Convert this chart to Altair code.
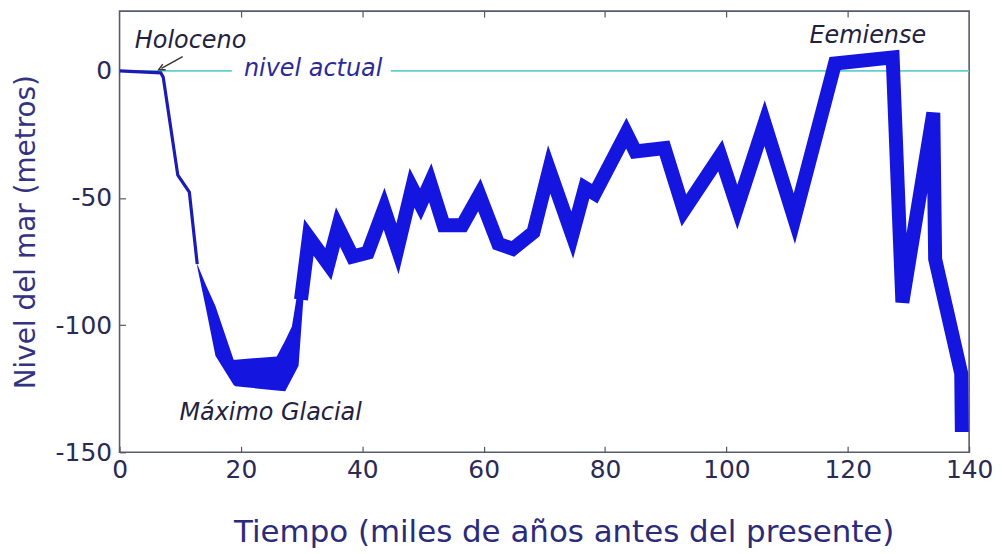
import altair as alt
import pandas as pd

# --- data (miles de años antes del presente, metros) ---
# tramo inicial (trazo fino)
t_ini = [0, 6.8, 7.2, 9.6, 11.5, 12.8]
n_ini = [0, -0.8, -2.5, -41, -47.7, -76]

# banda ancha del Máximo Glacial (borde superior / inferior)
banda_t = [12.8, 14.2, 15.8, 18.8, 19.1, 25.9, 27.3, 28.4, 29.5, 30.8, 31.2]
banda_sup = [-76, -84, -92.5, -113.6, -113.6, -112.3, -106, -100.5, -84.4, -65.3, -62.5]
banda_inf = [-77, -93, -112, -123.5, -124, -125.7, -126, -121, -116, -73, -69]

# tramo principal (trazo grueso)
t_main = [29.9, 31.2, 34.4, 36.0, 38.4, 40.9, 43.6, 45.8, 48.2, 49.6, 51.2, 53.4,
          56.5, 59.3, 62.4, 64.8, 68.2, 70.8, 74.6, 76.7, 78.3, 83.5, 85.0, 89.8,
          93.0, 99.0, 101.8, 106.3, 111.2, 117.9, 127.4, 129.0, 134.1, 134.4,
          138.7, 138.8]
n_main = [-90, -65.5, -76, -61.4, -73, -71.5, -54.2, -70, -46, -52.5, -44, -60.7,
          -60.7, -48.8, -68, -70, -63.5, -38.8, -64.6, -46, -48.3, -24.5, -31.7,
          -30.4, -54.9, -33.3, -53.6, -20.6, -58.1, 2.9, 5.3, -91, -16.5, -74,
          -119, -142]

ref_t = [0, 18.5, 44.7, 140]
ref_nivel = [0, 0, 0, 0]
ref_seg = ["a", "a", "b", "b"]

x_ticks = [0, 20, 40, 60, 80, 100, 120, 140]
y_ticks = [0, -50, -100, -150]

notas = ["Holoceno", "Eemiense", "Máximo Glacial"]
notas_t = [11.7, 123.3, 24.9]
notas_nivel = [11.8, 13.7, -134.4]

actual_texto = ["nivel actual"]
actual_t = [31.9]
actual_nivel = [0.6]

flecha_t = [10.4, 6.9]
flecha_nivel = [5.6, 1.0]

ini_df = pd.DataFrame({"t": t_ini, "nivel": n_ini, "i": list(range(len(t_ini)))})
main_df = pd.DataFrame({"t": t_main, "nivel": n_main, "i": list(range(len(t_main)))})
banda_df = pd.DataFrame({"t": banda_t, "nivel": banda_sup, "inf": banda_inf})
ref_df = pd.DataFrame({"t": ref_t, "nivel": ref_nivel, "seg": ref_seg})
notas_df = pd.DataFrame({"t": notas_t, "nivel": notas_nivel, "txt": notas})
actual_df = pd.DataFrame({"t": actual_t, "nivel": actual_nivel, "txt": actual_texto})
flecha_df = pd.DataFrame({"t": flecha_t, "nivel": flecha_nivel, "i": [0, 1]})
punta_df = flecha_df.iloc[[1]]

FONT = "DejaVu Sans"
AZUL = "#1515e0"
x_scale = alt.Scale(domain=[0, 140], nice=False, zero=False)
y_scale = alt.Scale(domain=[-150, 23.5], nice=False, zero=False)

x_axis = alt.Axis(values=x_ticks, title="Tiempo (miles de años antes del presente)",
                  offset=-6, tickSize=6, domain=False, grid=False, labelPadding=5,
                  labelFlush=False, labelExpr="datum.value + ''",
                  labelFontSize=25, labelColor="#2a2a55", labelFont=FONT,
                  tickColor="#555566", tickWidth=1.2,
                  titleFont=FONT, titleFontSize=31, titleFontWeight="normal",
                  titleColor="#2b2b7a", titlePadding=36, titleX=446)
x_top = alt.Axis(orient="top", values=[20, 40, 60, 80, 100, 120], labels=False,
                 title=None, offset=-6, tickSize=6, domain=False, grid=False,
                 tickColor="#555566", tickWidth=1.2)
y_axis = alt.Axis(values=y_ticks, title="Nivel del mar (metros)", offset=-6,
                  tickSize=6, domain=False, grid=False, labelPadding=8,
                  labelFlush=False, labelExpr="datum.value + ''",
                  labelFontSize=25, labelColor="#2a2a55", labelFont=FONT,
                  tickColor="#555566", tickWidth=1.2,
                  titleFont=FONT, titleFontSize=28, titleFontWeight="normal",
                  titleColor="#33337f", titlePadding=15)


def Y():
    return alt.Y("nivel:Q", scale=y_scale, axis=y_axis)


def XN():
    return alt.X("t:Q", scale=x_scale, axis=None)


ref_line = alt.Chart(ref_df).mark_line(color="#66cccc", strokeWidth=1.6).encode(
    x=alt.X("t:Q", scale=x_scale, axis=x_top), y=Y(), detail="seg:N")

banda = alt.Chart(banda_df).mark_area(color=AZUL, opacity=1).encode(
    x=XN(), y=Y(), y2="inf:Q")

linea_ini = alt.Chart(ini_df).mark_line(color="#1c1cb4", strokeWidth=3.2).encode(
    x=alt.X("t:Q", scale=x_scale, axis=x_axis), y=Y(), order="i:Q")

linea_main = alt.Chart(main_df).mark_line(
    color=AZUL, strokeWidth=14, strokeJoin="miter", strokeMiterLimit=8,
    strokeCap="butt").encode(x=XN(), y=Y(), order="i:Q")

notas_layer = alt.Chart(notas_df).mark_text(
    font=FONT, fontSize=24, fontStyle="italic", color="#22223f").encode(
    x=XN(), y=Y(), text="txt:N")

actual_layer = alt.Chart(actual_df).mark_text(
    font=FONT, fontSize=24, fontStyle="italic", color="#2a2a9a").encode(
    x=XN(), y=Y(), text="txt:N")

flecha = alt.Chart(flecha_df).mark_line(color="#333333", strokeWidth=1.4).encode(
    x=XN(), y=Y(), order="i:Q")

punta = alt.Chart(punta_df).mark_point(
    shape="M 1 -1 L -1 0 L 1 1", filled=False, color="#333333", strokeWidth=1.4,
    size=40, angle=333, opacity=1).encode(x=XN(), y=Y())

chart = alt.layer(ref_line, banda, linea_ini, linea_main, notas_layer, actual_layer,
                  flecha, punta).resolve_axis(x="independent").properties(
    width=853, height=443,
    autosize=alt.AutoSizeParams(type="none"),
    padding={"left": 112, "top": 2, "right": 30, "bottom": 100},
    background="white",
).configure_view(stroke="#5a5a6e", strokeWidth=1.6)

chart.save("out.html", embed_options={"renderer": "svg", "actions": False})
